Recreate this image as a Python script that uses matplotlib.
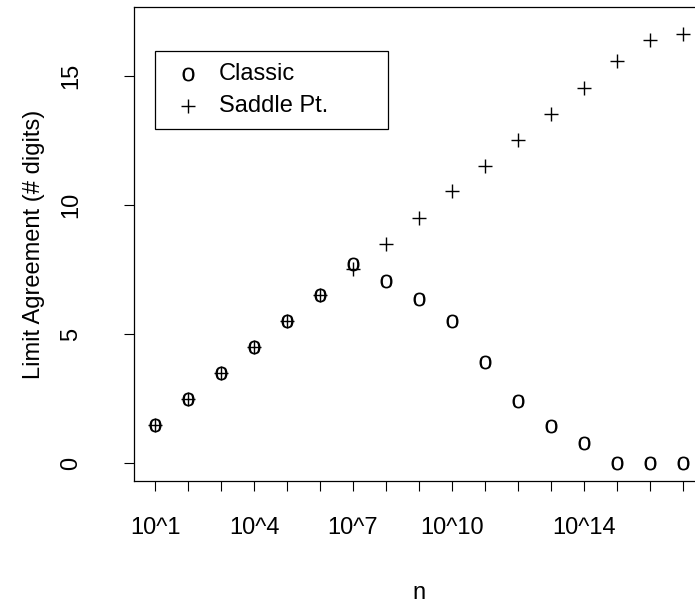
import numpy as np
import matplotlib.pyplot as plt

# exponents k of n = 10^k
exps = list(range(1, 18))
classic = [1.5, 2.5, 3.5, 4.5, 5.5, 6.5, 7.7, 7.05, 6.35, 5.5, 3.9, 2.4, 1.45, 0.78, 0, 0, 0]
saddle = [1.5, 2.5, 3.5, 4.5, 5.5, 6.5, 7.5, 8.5, 9.5, 10.52, 11.5, 12.5, 13.5, 14.5, 15.57, 16.38, 16.62]
xtick_pos = [1, 4, 7, 10, 14]
xtick_lab = ['10^1', '10^4', '10^7', '10^10', '10^14']
ytick_pos = [0, 5, 10, 15]

plt.rcParams['font.family'] = ['Liberation Sans', 'DejaVu Sans']
fs = 17

fig = plt.figure(figsize=(6.95, 6.04), dpi=100)
ax = fig.add_axes([134/695, 123/604, (703.8-134)/695, (481-7)/604])

ax.scatter(exps, classic, marker=r'$\mathregular{o}$', s=10**2, c='black', linewidths=0, label='Classic')
ax.scatter(exps, saddle, marker='+', s=9.6**2, c='black', linewidths=1.0, label='Saddle Pt.')

ax.set_xlim(0.36, 17.64)
ax.set_ylim(-0.685, 17.65)

ax.set_xticks(exps)
ax.set_xticklabels([xtick_lab[xtick_pos.index(e)] if e in xtick_pos else '' for e in exps])
ax.set_yticks(ytick_pos)
ax.set_yticklabels([str(v) for v in ytick_pos], rotation=90, va='center')
ax.tick_params(length=7.2, width=0.8, labelsize=fs)
ax.tick_params(axis='x', pad=19)
ax.tick_params(axis='y', pad=30)

for s in ax.spines.values():
    s.set_linewidth(0.9)

ax.set_xlabel('n', fontsize=fs, labelpad=31)
ax.set_ylabel('Limit Agreement (# digits)', fontsize=fs, labelpad=11)

leg = ax.legend(loc='upper left', bbox_to_anchor=(155/695, 1-51/604, (388-155)/695, 0.0),
                bbox_transform=fig.transFigure, mode='expand', borderaxespad=0,
                fancybox=False, edgecolor='black', framealpha=1, fontsize=fs,
                handlelength=1.8, handletextpad=0.41, borderpad=0.5, labelspacing=0.43,
                scatterpoints=1)
leg.get_frame().set_linewidth(0.9)

fig.savefig('out.png', dpi=100)
